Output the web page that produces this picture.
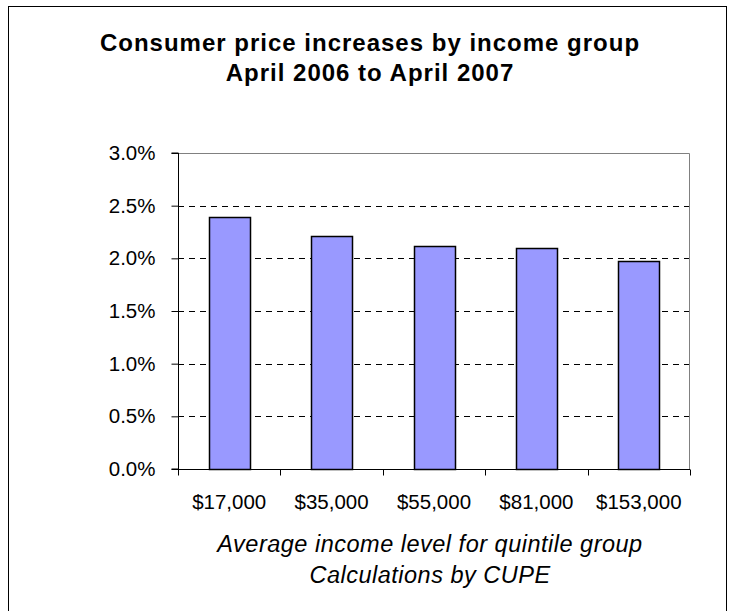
<!DOCTYPE html>
<html>
<head>
<meta charset="utf-8">
<script src="https://cdn.jsdelivr.net/npm/d3@7"></script>
<style>
	body { margin: 0; background: #fff; }
	svg { display: block; font-family: "Liberation Sans", Arial, sans-serif; }
</style>
</head>
<body>
<div id="chart"></div>
<script>
// data
const incomeGroups = ["$17,000", "$35,000", "$55,000", "$81,000", "$153,000"];
const priceIncreases = [0.0239, 0.0221, 0.0212, 0.0210, 0.0197];
const yTicks = [0, 0.005, 0.01, 0.015, 0.02, 0.025, 0.03];

const data = incomeGroups.map((g, i) => ({ group: g, value: priceIncreases[i] }));

const width = 732;
const height = 611;

const margin = { top: 153, bottom: 142, left: 178, right: 42 };

const svg = d3
	.select("#chart")
	.append("svg")
	.attr("width", width)
	.attr("height", height);

// outer frame
svg
	.append("rect")
	.attr("x", 8.5)
	.attr("y", 6.5)
	.attr("width", 718)
	.attr("height", 620)
	.attr("fill", "#fff")
	.attr("stroke", "#000")
	.attr("stroke-width", 1);

// scales
const xScale = d3
	.scaleBand()
	.domain(incomeGroups)
	.range([margin.left, width - margin.right])
	.paddingInner(0.6)
	.paddingOuter(0.3);

const yScale = d3
	.scaleLinear()
	.domain([0, 0.03])
	.range([height - margin.bottom, margin.top]);

const plotRight = width - margin.right;
const plotBottom = height - margin.bottom;

// gridlines
svg
	.append("g")
	.selectAll("line")
	.data(yTicks.filter((t) => t > 0 && t < 0.03))
	.enter()
	.append("line")
	.attr("x1", margin.left)
	.attr("x2", plotRight)
	.attr("y1", (d) => Math.round(yScale(d)) + 0.5)
	.attr("y2", (d) => Math.round(yScale(d)) + 0.5)
	.attr("stroke", "#000")
	.attr("stroke-dasharray", "6,5");

// top and right plot border
svg
	.append("path")
	.attr("d", `M${margin.left},${margin.top + 0.5}H${plotRight - 0.5}V${plotBottom}`)
	.attr("fill", "none")
	.attr("stroke", "#808080");

// bars
svg
	.append("g")
	.selectAll("rect")
	.data(data)
	.enter()
	.append("rect")
	.attr("x", (d) => Math.round(xScale(d.group)) + 0.5)
	.attr("y", (d) => Math.round(yScale(d.value)) + 0.5)
	.attr("width", Math.round(xScale.bandwidth()))
	.attr("height", (d) => plotBottom - Math.round(yScale(d.value)))
	.attr("fill", "#9999ff")
	.attr("stroke", "#000")
	.attr("stroke-width", 1.5);

// y axis
const yAxis = svg
	.append("g")
	.attr("transform", `translate(${margin.left + 0.5}, 0)`)
	.call(
		d3
			.axisLeft(yScale)
			.tickValues(yTicks)
			.tickFormat(d3.format(".1%"))
			.tickSize(7)
			.tickPadding(16),
	);

yAxis.select(".domain").attr("stroke", "#000").attr("d", `M-7,${margin.top}H0V${plotBottom}H-7`);
yAxis
	.selectAll("text")
	.style("font-size", "20.5px")
	.attr("fill", "#000");

// x axis with ticks on category boundaries
const xAxis = svg
	.append("g")
	.attr("transform", `translate(0, ${plotBottom + 0.5})`);

xAxis
	.append("line")
	.attr("x1", margin.left)
	.attr("x2", plotRight)
	.attr("stroke", "#000");

const step = xScale.step();
xAxis
	.selectAll("line.tick")
	.data(d3.range(incomeGroups.length + 1))
	.enter()
	.append("line")
	.attr("class", "tick")
	.attr("x1", (i) => Math.round(margin.left + i * step) + 0.5)
	.attr("x2", (i) => Math.round(margin.left + i * step) + 0.5)
	.attr("y1", 0)
	.attr("y2", 6)
	.attr("stroke", "#000");

xAxis
	.selectAll("text")
	.data(incomeGroups)
	.enter()
	.append("text")
	.attr("x", (d) => xScale(d) + xScale.bandwidth() / 2)
	.attr("y", 39)
	.attr("text-anchor", "middle")
	.style("font-size", "20.5px")
	.text((d) => d);

// title
const title = svg
	.append("text")
	.attr("x", 370)
	.attr("y", 51)
	.attr("text-anchor", "middle")
	.style("font-size", "24px")
	.style("font-weight", "bold")
	.style("letter-spacing", "1px");

title.append("tspan").attr("x", 370).text("Consumer price increases by income group");
title.append("tspan").attr("x", 370).attr("dy", 30).text("April 2006 to April 2007");

// axis caption
const caption = svg
	.append("text")
	.attr("x", 430)
	.attr("y", 552)
	.attr("text-anchor", "middle")
	.style("font-size", "23.5px")
	.style("font-style", "italic")
	.style("letter-spacing", "0.5px");

caption.append("tspan").attr("x", 430).text("Average income level for quintile group");
caption.append("tspan").attr("x", 430).attr("dy", 31).text("Calculations by CUPE");
</script>
</body>
</html>
